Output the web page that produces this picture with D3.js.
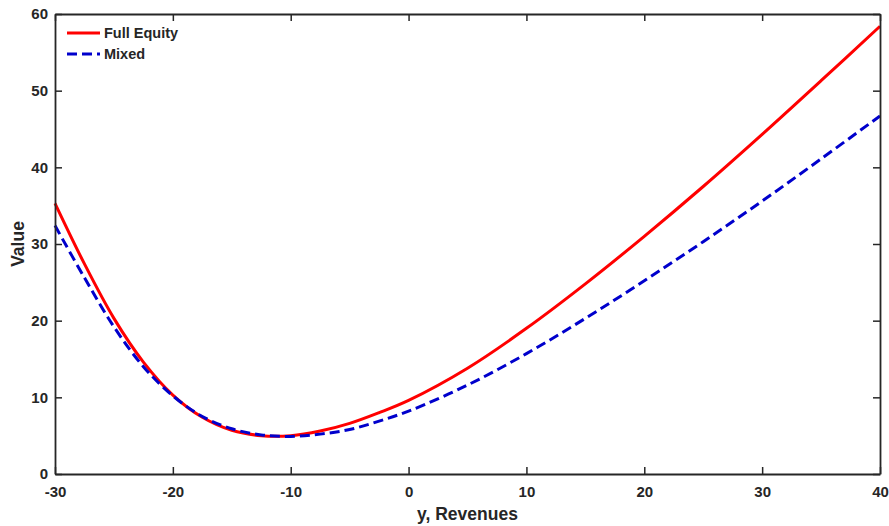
<!DOCTYPE html>
<html>
<head>
<meta charset="utf-8">
<script src="https://cdn.jsdelivr.net/npm/d3@7"></script>
<style>
  body { margin: 0; background: #fff; }
  text { font-family: "Liberation Sans", Arial, sans-serif; font-weight: bold; fill: #262626; }
</style>
</head>
<body>
<div id="chart"></div>
<script>
const revenues = [-30, -27.5, -25, -22.5, -20, -17.5, -15, -12.5, -10, -7.5, -5, -2.5, 0, 5, 10, 15, 20, 25, 30, 35, 40];
const fullEquity = [35.3, 27.4, 20.3, 14.6, 10.3, 7.4, 5.7, 5.0, 5.0, 5.6, 6.6, 8.0, 9.6, 13.8, 19.0, 24.8, 31.0, 37.5, 44.3, 51.3, 58.4];
const mixed = [32.4, 25.6, 19.2, 14.0, 10.2, 7.5, 5.9, 5.1, 4.9, 5.2, 5.8, 6.9, 8.2, 11.6, 15.7, 20.3, 25.2, 30.3, 35.6, 41.1, 46.7];
const xTicks = [-30, -20, -10, 0, 10, 20, 30, 40];
const yTicks = [0, 10, 20, 30, 40, 50, 60];

const SERIES = [
  { name: "Full Equity", values: fullEquity, color: "#ff0000", dash: null },
  { name: "Mixed", values: mixed, color: "#0000cc", dash: "10 5" },
];

const width = 889;
const height = 526;
const margin = { top: 14, right: 9, bottom: 52, left: 55 };

const svg = d3.select("#chart")
  .append("svg")
  .attr("width", width)
  .attr("height", height);

const x = d3.scaleLinear()
  .domain([-30, 40])
  .range([margin.left, width - margin.right]);

const y = d3.scaleLinear()
  .domain([0, 60])
  .range([height - margin.bottom, margin.top]);

const line = d3.line()
  .x((d) => x(d[0]))
  .y((d) => y(d[1]))
  .curve(d3.curveCatmullRom.alpha(0.5));

svg.append("g")
  .selectAll("path")
  .data(SERIES)
  .join("path")
  .attr("fill", "none")
  .attr("stroke", (d) => d.color)
  .attr("stroke-width", 3)
  .attr("stroke-dasharray", (d) => d.dash)
  .attr("d", (d) => line(revenues.map((r, i) => [r, d.values[i]])));

// plain hyphen minus, like the original figure
const fmt = (d) => String(d);

// axes with inward ticks on all four sides
const axisStyle = (g) => {
  g.selectAll("path").attr("stroke", "#262626").attr("stroke-width", 1.8);
  g.selectAll("line").attr("stroke", "#262626").attr("stroke-width", 1.5);
  g.selectAll("text").attr("font-size", 15);
};

svg.append("g")
  .attr("transform", `translate(0,${y(0)})`)
  .call(d3.axisBottom(x).tickValues(xTicks).tickSize(-7).tickSizeOuter(0).tickPadding(12).tickFormat(fmt))
  .call(axisStyle);

svg.append("g")
  .attr("transform", `translate(0,${y(60)})`)
  .call(d3.axisTop(x).tickValues(xTicks).tickSize(-7).tickSizeOuter(0).tickFormat(""))
  .call(axisStyle);

svg.append("g")
  .attr("transform", `translate(${x(-30)},0)`)
  .call(d3.axisLeft(y).tickValues(yTicks).tickSize(-7).tickSizeOuter(0).tickPadding(7).tickFormat(fmt))
  .call(axisStyle);

svg.append("g")
  .attr("transform", `translate(${x(40)},0)`)
  .call(d3.axisRight(y).tickValues(yTicks).tickSize(-7).tickSizeOuter(0).tickFormat(""))
  .call(axisStyle);

svg.append("text")
  .attr("x", (x(-30) + x(40)) / 2)
  .attr("y", 520)
  .attr("text-anchor", "middle")
  .attr("font-size", 17.5)
  .text("y, Revenues");

svg.append("text")
  .attr("transform", `translate(24,${(y(0) + y(60)) / 2}) rotate(-90)`)
  .attr("text-anchor", "middle")
  .attr("font-size", 17.5)
  .text("Value");

// legend
const legend = svg.append("g")
  .selectAll("g")
  .data(SERIES)
  .join("g")
  .attr("transform", (d, i) => `translate(67,${33 + i * 21})`);

legend.append("line")
  .attr("x1", 0)
  .attr("x2", 33)
  .attr("stroke", (d) => d.color)
  .attr("stroke-width", 3)
  .attr("stroke-dasharray", (d) => d.dash);

legend.append("text")
  .attr("x", 37)
  .attr("dy", "0.35em")
  .attr("font-size", 14.5)
  .text((d) => d.name);
</script>
</body>
</html>
